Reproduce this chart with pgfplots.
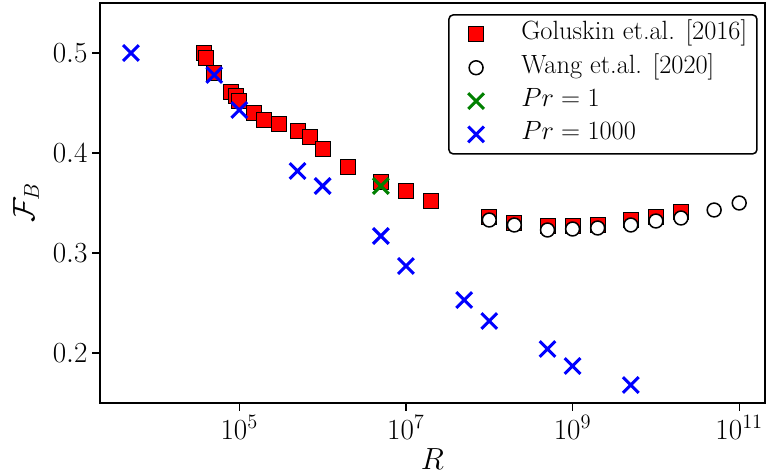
\RequirePackage{fix-cm}
\documentclass[border=0pt]{standalone}
\usepackage{pgfplots}
\pgfplotsset{compat=1.18}
\definecolor{mplgreen}{RGB}{0,128,0}
\begin{document}
\begin{tikzpicture}
\begin{axis}[
  scale only axis,
  width=478.8pt, height=288pt,
  xmode=log, log basis x=10,
  xmin=2128, xmax=2.04e11,
  ymin=0.15, ymax=0.55,
  xtick={1e5,1e7,1e9,1e11},
  ytick={0.2,0.3,0.4,0.5},
  yticklabel style={/pgf/number format/fixed, /pgf/number format/precision=1},
  minor tick num=0,
  minor xtick={},
  tick pos=left,
  tick align=outside,
  major tick length=5.5pt,
  tick style={line width=1pt, black},
  axis line style={line width=1.1pt},
  tick label style={font=\fontsize{21}{25}\selectfont},
  xlabel={$R$}, ylabel={$\mathcal{F}_B$},
  label style={font=\fontsize{22}{26}\selectfont},
  xlabel style={at={(axis description cs:0.5,-0.1775)}, anchor=south, inner sep=0pt, text depth=2.9pt},
  ylabel style={at={(axis description cs:-0.15038,0.5)}, rotate=0, anchor=north, inner sep=0pt, text height=24.4pt},
  legend style={at={(0.989,0.972)}, anchor=north east, draw=black, line width=1.1pt, rounded corners=3pt,
    font=\fontsize{19}{22}\selectfont, row sep=0pt, inner xsep=4pt, inner ysep=2pt,
    nodes={inner sep=3pt, text height=13pt, text depth=5pt}},
  legend cell align=left,
  legend image code/.code={\path (-15pt,0pt) (29pt,0pt); \draw[mark repeat=2,mark phase=2,#1] plot coordinates {(-0.5cm,0cm) (0cm,0cm) (0.5cm,0cm)};},
]
\addplot[only marks, mark=square*, mark size=5.4pt, mark options={fill=red, draw=black, line width=0.6pt}] coordinates {
(3.8e4,0.500) (4.0e4,0.495) (5e4,0.480) (8e4,0.461) (9e4,0.457) (1e5,0.452)
(1.5e5,0.440) (2e5,0.433) (3e5,0.429) (5e5,0.422) (7e5,0.416) (1e6,0.404)
(2e6,0.386) (5e6,0.371) (1e7,0.362) (2e7,0.352) (1e8,0.336) (2e8,0.330)
(5e8,0.327) (1e9,0.327) (2e9,0.328) (5e9,0.333) (1e10,0.336) (2e10,0.341)
};
\addlegendentry{Goluskin et.al. [2016]}
\addplot[only marks, mark=*, mark size=5pt, mark options={fill=white, draw=black, line width=1.1pt}] coordinates {
(1e8,0.333) (2e8,0.328) (5e8,0.323) (1e9,0.324) (2e9,0.325) (5e9,0.328)
(1e10,0.332) (2e10,0.335) (5e10,0.343) (1e11,0.350)
};
\addlegendentry{Wang et.al. [2020]}
\addplot[only marks, mark=x, mark size=8pt, mark options={draw=mplgreen, line width=2.2pt}] coordinates {
(5e6,0.367)
};
\addlegendentry{$Pr=1$}
\addplot[only marks, mark=x, mark size=8pt, mark options={draw=blue, line width=2.2pt}] coordinates {
(5e3,0.500) (5e4,0.478) (1e5,0.443) (5e5,0.382) (1e6,0.367) (5e6,0.317)
(1e7,0.287) (5e7,0.253) (1e8,0.232) (5e8,0.204) (1e9,0.187) (5e9,0.168)
};
\addlegendentry{$Pr=1000$}
\coordinate (bbsw) at (rel axis cs:0,0);
\coordinate (bbne) at (rel axis cs:1,1);
\end{axis}
\pgfresetboundingbox
\path ([shift={(-72pt,-51.12pt)}]bbsw) rectangle ([shift={(1.44pt,2.16pt)}]bbne);
\end{tikzpicture}
\end{document}
